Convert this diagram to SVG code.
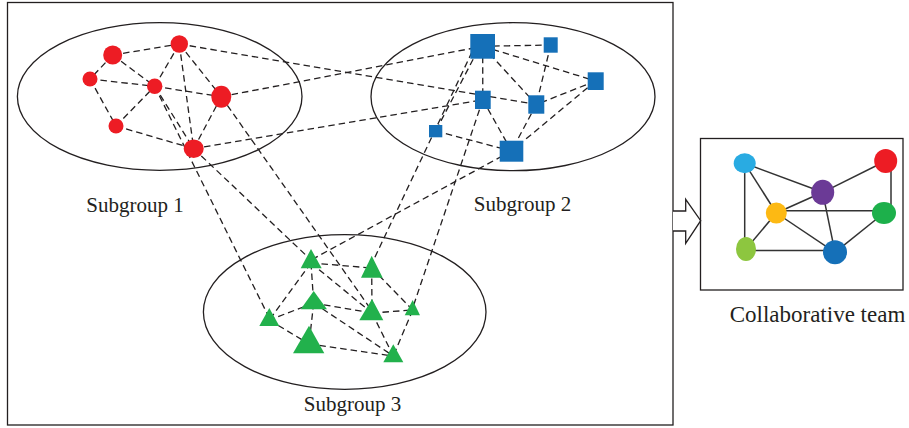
<svg xmlns="http://www.w3.org/2000/svg" width="909" height="428" viewBox="0 0 909 428">
  <style>
    .frame { fill: none; stroke: #231f20; stroke-width: 1.3; }
    .group { fill: none; stroke: #231f20; stroke-width: 1.3; }
    .link { fill: none; stroke: #231f20; stroke-width: 1.3; stroke-dasharray: 6.5 4; }
    .tie { fill: none; stroke: #333333; stroke-width: 1.5; }
    .red { fill: #ed1c24; }
    .blue { fill: #1570b8; }
    .green { fill: #22b14c; }
    .label { font-family: "Liberation Serif", "DejaVu Serif", serif; fill: #231f20; text-anchor: middle; }
  </style>

  <rect width="909" height="428" fill="#ffffff"/>

  <!-- outer frame of the three subgroups -->
  <rect class="frame" x="7.5" y="2.5" width="665.5" height="422.5"/>

  <!-- subgroup outlines -->
  <g id="outlines">
    <ellipse class="group" cx="159.7" cy="96.5" rx="142.3" ry="73.8"/>
    <ellipse class="group" cx="513" cy="96.7" rx="142" ry="74"/>
    <ellipse class="group" cx="344.7" cy="312" rx="141.3" ry="77.3"/>
  </g>

  <!-- dashed links between members -->
  <g id="connectors">
    <!-- inside subgroup 1 -->
    <line class="link" x1="112.7" y1="55" x2="179.3" y2="44"/>
    <line class="link" x1="112.7" y1="55" x2="90" y2="79"/>
    <line class="link" x1="112.7" y1="55" x2="154.7" y2="86.3"/>
    <line class="link" x1="90" y1="79" x2="154.7" y2="86.3"/>
    <line class="link" x1="90" y1="79" x2="116" y2="126"/>
    <line class="link" x1="116" y1="126" x2="154.7" y2="86.3"/>
    <line class="link" x1="154.7" y1="86.3" x2="179.3" y2="44"/>
    <line class="link" x1="154.7" y1="86.3" x2="221.3" y2="96.7"/>
    <line class="link" x1="179.3" y1="44" x2="221.3" y2="96.7"/>
    <line class="link" x1="179.3" y1="44" x2="193.7" y2="148.7"/>
    <line class="link" x1="221.3" y1="96.7" x2="193.7" y2="148.7"/>
    <line class="link" x1="116" y1="126" x2="193.7" y2="148.7"/>
    <line class="link" x1="154.7" y1="86.3" x2="193.7" y2="148.7"/>
    <!-- inside subgroup 2 -->
    <line class="link" x1="482.7" y1="46.3" x2="550.7" y2="45"/>
    <line class="link" x1="482.7" y1="46.3" x2="595.7" y2="81"/>
    <line class="link" x1="482.7" y1="46.3" x2="482.8" y2="99.8"/>
    <line class="link" x1="482.7" y1="46.3" x2="536.3" y2="104.5"/>
    <line class="link" x1="550.7" y1="45" x2="536.3" y2="104.5"/>
    <line class="link" x1="595.7" y1="81" x2="536.3" y2="104.5"/>
    <line class="link" x1="595.7" y1="81" x2="511.5" y2="151"/>
    <line class="link" x1="482.8" y1="99.8" x2="511.5" y2="151"/>
    <line class="link" x1="536.3" y1="104.5" x2="511.5" y2="151"/>
    <line class="link" x1="435.7" y1="131" x2="511.5" y2="151"/>
    <line class="link" x1="478" y1="50" x2="435.7" y2="131"/>
    <!-- inside subgroup 3 -->
    <line class="link" x1="311" y1="263" x2="371.7" y2="268"/>
    <line class="link" x1="311" y1="263" x2="313.7" y2="303"/>
    <line class="link" x1="311" y1="263" x2="269.3" y2="320"/>
    <line class="link" x1="311" y1="263" x2="372" y2="313"/>
    <line class="link" x1="371.7" y1="268" x2="372" y2="313"/>
    <line class="link" x1="371.7" y1="268" x2="412.7" y2="310"/>
    <line class="link" x1="313.7" y1="303" x2="269.3" y2="320"/>
    <line class="link" x1="313.7" y1="303" x2="372" y2="313"/>
    <line class="link" x1="313.7" y1="303" x2="309" y2="344"/>
    <line class="link" x1="313.7" y1="303" x2="393.3" y2="356"/>
    <line class="link" x1="372" y1="313" x2="412.7" y2="310"/>
    <line class="link" x1="372" y1="313" x2="393.3" y2="356"/>
    <line class="link" x1="269.3" y1="320" x2="309" y2="344"/>
    <line class="link" x1="309" y1="344" x2="393.3" y2="356"/>
    <line class="link" x1="412.7" y1="310" x2="393.3" y2="356"/>
    <!-- subgroup 1 to subgroup 2 -->
    <line class="link" x1="179.3" y1="44" x2="536.3" y2="104.5"/>
    <line class="link" x1="221.3" y1="96.7" x2="482.7" y2="46.3"/>
    <line class="link" x1="193.7" y1="148.7" x2="482.8" y2="99.8"/>
    <!-- subgroup 1 to subgroup 3 -->
    <line class="link" x1="154.7" y1="86.3" x2="269.3" y2="318"/>
    <line class="link" x1="193.7" y1="148.7" x2="311" y2="260"/>
    <line class="link" x1="221.3" y1="96.7" x2="372" y2="311"/>
    <!-- subgroup 2 to subgroup 3 -->
    <line class="link" x1="511.5" y1="151" x2="311" y2="260"/>
    <line class="link" x1="472" y1="52" x2="371.7" y2="264"/>
    <line class="link" x1="482.8" y1="99.8" x2="412.7" y2="308"/>
  </g>

  <!-- subgroup 1 members -->
  <g id="subgroup-1">
    <circle class="red" cx="112.7" cy="55" r="9.5"/>
    <circle class="red" cx="179.3" cy="44" r="8.7"/>
    <circle class="red" cx="90" cy="79" r="7.5"/>
    <circle class="red" cx="154.7" cy="86.3" r="7.7"/>
    <ellipse class="red" cx="221.3" cy="96.7" rx="10" ry="11"/>
    <circle class="red" cx="116" cy="126" r="7.5"/>
    <ellipse class="red" cx="193.7" cy="148.7" rx="10" ry="9.3"/>
  </g>

  <!-- subgroup 2 members -->
  <g id="subgroup-2">
    <rect class="blue" x="470.3" y="34" width="24.7" height="24.7"/>
    <rect class="blue" x="543.7" y="37.3" width="14" height="15.4"/>
    <rect class="blue" x="587.7" y="72.3" width="16" height="17.7"/>
    <rect class="blue" x="475" y="90.7" width="15.7" height="18.3"/>
    <rect class="blue" x="528.3" y="95.3" width="16" height="18.4"/>
    <rect class="blue" x="429" y="125" width="13.3" height="12.3"/>
    <rect class="blue" x="499.7" y="140.7" width="23.6" height="21"/>
  </g>

  <!-- subgroup 3 members -->
  <g id="subgroup-3">
    <polygon class="green" points="311,249 321.7,268.3 300.7,268.3"/>
    <polygon class="green" points="371.7,255.7 382.7,277.7 361,277.7"/>
    <polygon class="green" points="313.7,291 327,309.3 300.7,309.3"/>
    <polygon class="green" points="372,299 383.3,320.3 359.3,320.3"/>
    <polygon class="green" points="412.7,300 420,315.3 404.7,315.3"/>
    <polygon class="green" points="269.3,308 279.3,326 259.3,326"/>
    <polygon class="green" points="309,325.7 324.3,353.3 293,353.3"/>
    <polygon class="green" points="393.3,344.3 403.3,362.3 383.3,362.3"/>
  </g>

  <g id="subgroup-labels">
    <text class="label" x="135" y="211.5" font-size="21">Subgroup 1</text>
    <text class="label" x="522.5" y="211" font-size="21">Subgroup 2</text>
    <text class="label" x="352.5" y="411" font-size="21">Subgroup 3</text>
  </g>

  <!-- hollow arrow into the team box -->
  <g id="arrow">
    <path d="M673,211 H685.7 V199.3 L700.7,220.7 L685.7,243.3 V231 H673" fill="#ffffff" stroke="#231f20" stroke-width="1.3" stroke-linejoin="miter"/>
  </g>

  <!-- resulting team -->
  <g id="team">
    <rect class="frame" x="700.5" y="138.5" width="202.5" height="151.5"/>
    <g id="team-ties">
      <line class="tie" x1="744.7" y1="163.3" x2="822.7" y2="192.3"/>
      <line class="tie" x1="744.7" y1="163.3" x2="776.3" y2="213"/>
      <line class="tie" x1="744.7" y1="163.3" x2="744.7" y2="249"/>
      <line class="tie" x1="885.7" y1="161" x2="822.7" y2="192.3"/>
      <line class="tie" x1="891" y1="163" x2="891" y2="212"/>
      <line class="tie" x1="776.3" y1="213" x2="822.7" y2="192.3"/>
      <line class="tie" x1="776.3" y1="210.7" x2="884" y2="210.7"/>
      <line class="tie" x1="776.3" y1="213" x2="746" y2="249"/>
      <line class="tie" x1="776.3" y1="213" x2="835" y2="252.3"/>
      <line class="tie" x1="822.7" y1="192.3" x2="835" y2="252.3"/>
      <line class="tie" x1="884" y1="213" x2="835" y2="252.3"/>
      <line class="tie" x1="746" y1="250.5" x2="835" y2="250.5"/>
    </g>
    <ellipse cx="744.7" cy="163.3" rx="11" ry="10" fill="#29abe2"/>
    <ellipse cx="885.7" cy="161" rx="11.5" ry="12" fill="#ed1c24"/>
    <ellipse cx="822.7" cy="192.3" rx="11.5" ry="12.5" fill="#6b3a96"/>
    <ellipse cx="776.3" cy="213" rx="10.5" ry="10.5" fill="#fdb913"/>
    <ellipse cx="884" cy="213" rx="12" ry="11" fill="#1db04b"/>
    <ellipse cx="746" cy="249" rx="10" ry="12" fill="#8dc63f"/>
    <ellipse cx="835" cy="252.3" rx="12" ry="12" fill="#1570b8"/>
    <text class="label" x="817.5" y="321.5" font-size="23">Collaborative team</text>
  </g>
</svg>
